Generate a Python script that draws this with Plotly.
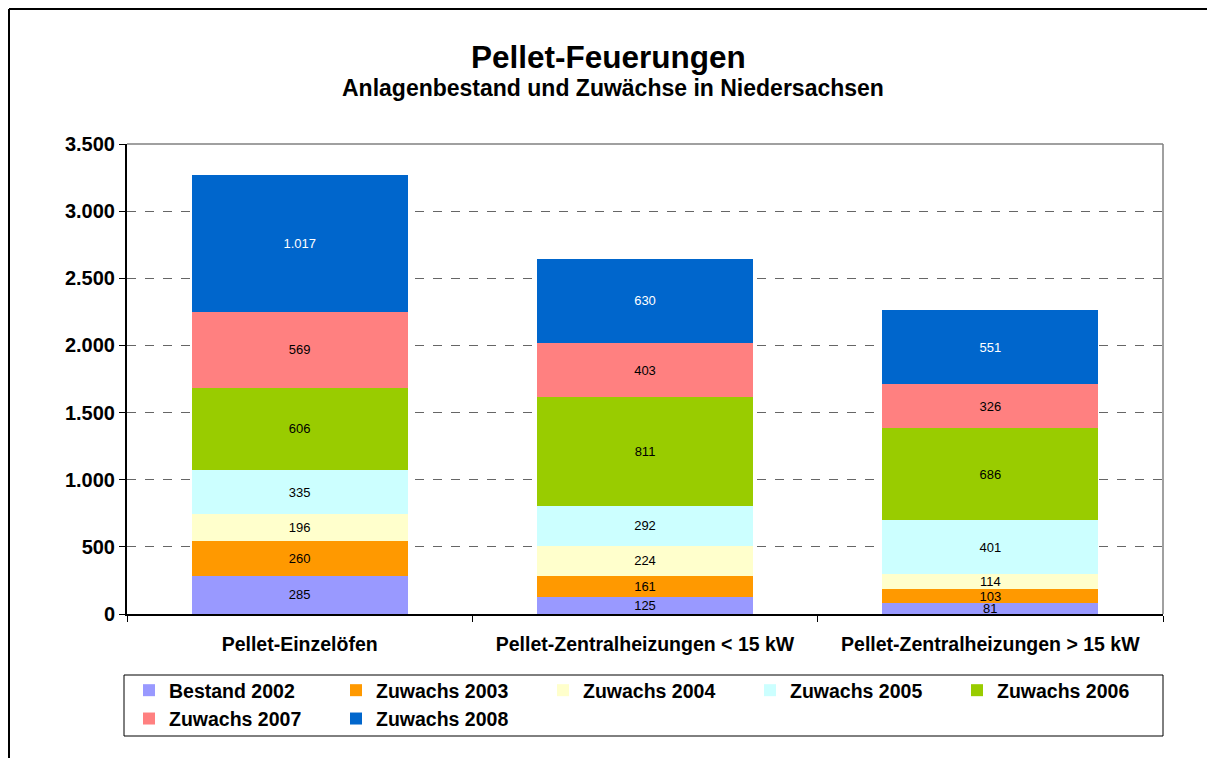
import plotly.graph_objects as go

categories = [
    "Pellet-Einzelöfen",
    "Pellet-Zentralheizungen < 15 kW",
    "Pellet-Zentralheizungen > 15 kW",
]

series_names = [
    "Bestand 2002",
    "Zuwachs 2003",
    "Zuwachs 2004",
    "Zuwachs 2005",
    "Zuwachs 2006",
    "Zuwachs 2007",
    "Zuwachs 2008",
]

bestand_2002 = [285, 125, 81]
zuwachs_2003 = [260, 161, 103]
zuwachs_2004 = [196, 224, 114]
zuwachs_2005 = [335, 292, 401]
zuwachs_2006 = [606, 811, 686]
zuwachs_2007 = [569, 403, 326]
zuwachs_2008 = [1017, 630, 551]

y_ticks = [0, 500, 1000, 1500, 2000, 2500, 3000, 3500]

colors = ["#9999FF", "#FF9900", "#FFFFCC", "#CCFFFF", "#99CC00", "#FF8080", "#0066CC"]
text_colors = ["#000000"] * 6 + ["#FFFFFF"]

FONT = "Arial, Liberation Sans, sans-serif"

# the page body adds an 8 px margin, so the figure is drawn 8 px smaller
# and every page-pixel position below is shifted by that offset
OFF = 8
W, H = 1215 - OFF, 758 - OFF
L, R, T, B = 127 - OFF, 1163 - OFF, 144 - OFF, 614 - OFF
pw, ph = R - L, B - T


def px_x(x):
    """page pixel x -> paper coordinate"""
    return (x - OFF - L) / pw


def px_y(y):
    """page pixel y -> paper coordinate"""
    return (B - (y - OFF)) / ph


values = [bestand_2002, zuwachs_2003, zuwachs_2004, zuwachs_2005,
          zuwachs_2006, zuwachs_2007, zuwachs_2008]

fig = go.Figure()
for name, vals, col, tcol in zip(series_names, values, colors, text_colors):
    fig.add_bar(
        x=categories,
        y=vals,
        name=name,
        marker=dict(color=col, line=dict(width=0)),
        texttemplate="%{y:,}",
        textposition="inside",
        insidetextanchor="middle",
        textangle=0,
        constraintext="none",
        textfont=dict(family=FONT, size=13, color=tcol),
    )

fig.update_layout(
    barmode="stack",
    bargap=0.375,
    width=W,
    height=H,
    separators=",.",
    paper_bgcolor="white",
    plot_bgcolor="white",
    font=dict(family=FONT, color="black"),
    margin=dict(l=L, r=W - R, t=T, b=H - B, autoexpand=False),
    showlegend=True,
    # legend entries only; the box around them is a shape below
    legend=dict(
        orientation="h",
        x=px_x(129),
        xanchor="left",
        y=px_y(671),
        yanchor="top",
        borderwidth=0,
        bgcolor="rgba(0,0,0,0)",
        entrywidth=162,
        entrywidthmode="pixels",
        traceorder="normal",
        font=dict(family=FONT, size=19.5, color="black", weight="bold"),
        itemsizing="constant",
    ),
    annotations=[
        dict(text="<b>Pellet-Feuerungen</b>", x=px_x(608), y=px_y(57), xref="paper", yref="paper",
             showarrow=False, font=dict(family=FONT, size=31.5, color="black"),
             xanchor="center", yanchor="middle"),
        dict(text="<b>Anlagenbestand und Zuwächse in Niedersachsen</b>", x=px_x(613), y=px_y(88),
             xref="paper", yref="paper", showarrow=False,
             font=dict(family=FONT, size=23, color="black"),
             xanchor="center", yanchor="middle"),
    ],
    shapes=[
        # outer chart border (left and top edges visible)
        dict(type="line", xref="paper", yref="paper", x0=px_x(9), x1=px_x(9),
             y0=px_y(9), y1=px_y(770), line=dict(color="black", width=2)),
        dict(type="line", xref="paper", yref="paper", x0=px_x(9), x1=px_x(1220),
             y0=px_y(9), y1=px_y(9), line=dict(color="black", width=2)),
        # plot frame top/right
        dict(type="line", xref="paper", yref="paper", x0=0, x1=1, y0=1, y1=1,
             line=dict(color="#808080", width=1.5)),
        dict(type="line", xref="paper", yref="paper", x0=1, x1=1, y0=0, y1=1,
             line=dict(color="#808080", width=1.5)),
        # legend box
        dict(type="rect", xref="paper", yref="paper", x0=px_x(124), x1=px_x(1163),
             y0=px_y(736), y1=px_y(675), line=dict(color="black", width=1),
             layer="below"),
    ],
)

fig.update_xaxes(
    showline=True,
    linecolor="black",
    linewidth=2,
    ticks="outside",
    tickson="boundaries",
    ticklen=6,
    tickcolor="black",
    tickfont=dict(family=FONT, size=19.5, color="black", weight="bold"),
    ticklabelstandoff=12,
    showgrid=False,
)

fig.update_yaxes(
    range=[0, 3500],
    tickvals=y_ticks,
    tickformat=",",
    showline=True,
    linecolor="black",
    linewidth=2,
    ticks="outside",
    ticklen=6,
    tickcolor="black",
    tickfont=dict(family=FONT, size=20, color="black", weight="bold"),
    showgrid=True,
    gridcolor="#666666",
    gridwidth=1,
    griddash="dash",
    zeroline=False,
)

fig.write_html("out.html")
